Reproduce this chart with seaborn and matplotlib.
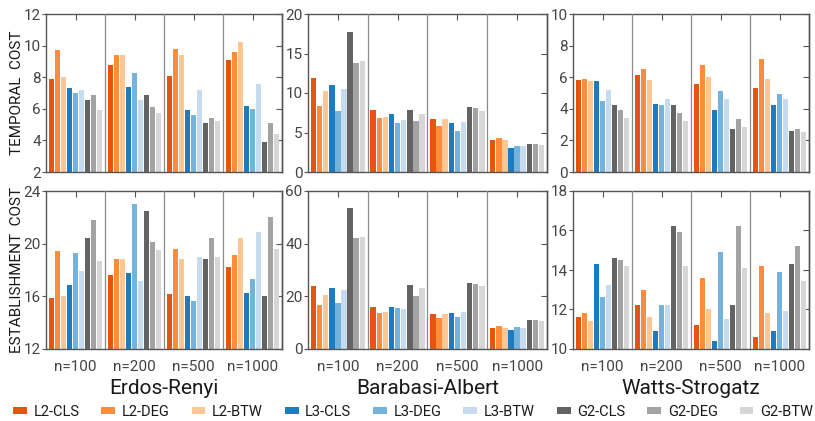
import numpy as np
import pandas as pd
import matplotlib
matplotlib.use("Agg")
import matplotlib.pyplot as plt
from matplotlib.patches import Patch
import seaborn as sns

sns.set_style("white")
plt.rcParams['font.family'] = ['Roboto', 'DejaVu Sans']

# ---------------- data ----------------
methods = ["L2-CLS", "L2-DEG", "L2-BTW", "L3-CLS", "L3-DEG", "L3-BTW",
           "G2-CLS", "G2-DEG", "G2-BTW"]
colors = ["#e6550d", "#fd8d3c", "#fdc793", "#1f7bbf", "#74b3dc", "#c6dbef",
          "#636363", "#a3a3a3", "#d6d6d6"]
n_labels = ["n=100", "n=200", "n=500", "n=1000"]
networks = ["Erdos-Renyi", "Barabasi-Albert", "Watts-Strogatz"]
row_labels = ["TEMPORAL  COST", "ESTABLISHMENT  COST"]

# rows: methods (same order as `methods`), columns: n=100, 200, 500, 1000
er_temporal = [
    [7.9, 8.8, 8.1, 9.1],
    [9.7, 9.4, 9.8, 9.6],
    [8.0, 9.4, 9.4, 10.2],
    [7.3, 7.35, 5.9, 6.2],
    [7.0, 8.25, 5.6, 6.0],
    [7.2, 6.55, 7.2, 7.55],
    [6.55, 6.9, 5.1, 3.9],
    [6.85, 6.1, 5.4, 5.1],
    [5.9, 5.75, 5.2, 4.4],
]
ba_temporal = [
    [11.9, 7.9, 6.7, 4.0],
    [8.3, 6.8, 5.8, 4.3],
    [10.3, 7.0, 6.7, 4.0],
    [11.05, 7.35, 6.2, 3.0],
    [7.7, 6.2, 5.15, 3.35],
    [10.55, 6.55, 6.3, 3.35],
    [17.7, 7.9, 8.2, 3.55],
    [13.85, 6.45, 8.05, 3.55],
    [14.1, 7.4, 7.7, 3.4],
]
ws_temporal = [
    [5.85, 6.15, 5.6, 5.3],
    [5.9, 6.55, 6.8, 7.15],
    [5.75, 5.85, 6.0, 5.9],
    [5.75, 4.3, 3.9, 4.25],
    [4.5, 4.25, 5.1, 4.95],
    [5.2, 4.65, 4.65, 4.65],
    [4.25, 4.25, 2.7, 2.6],
    [3.9, 3.75, 3.35, 2.7],
    [3.4, 3.2, 2.85, 2.55],
]
er_establish = [
    [15.85, 17.6, 16.2, 18.25],
    [19.45, 18.8, 19.6, 19.15],
    [16.05, 18.8, 18.8, 20.45],
    [16.85, 17.8, 16.0, 16.25],
    [19.3, 23.05, 15.65, 17.3],
    [17.95, 17.15, 19.0, 20.9],
    [20.4, 22.45, 18.8, 16.0],
    [21.8, 20.1, 20.4, 22.0],
    [18.7, 19.5, 19.0, 19.6],
]
ba_establish = [
    [23.9, 15.9, 13.4, 7.9],
    [16.6, 13.75, 11.75, 8.75],
    [20.6, 14.1, 13.4, 7.9],
    [23.0, 15.9, 13.5, 7.4],
    [17.4, 15.6, 12.1, 8.25],
    [22.5, 15.25, 14.0, 8.1],
    [53.4, 24.4, 25.25, 11.1],
    [42.1, 20.0, 24.6, 11.1],
    [42.5, 23.0, 23.75, 10.6],
]
ws_establish = [
    [11.62, 12.22, 11.2, 10.6],
    [11.82, 13.0, 13.62, 14.22],
    [11.42, 11.62, 12.02, 11.8],
    [14.32, 10.92, 10.4, 10.9],
    [12.62, 12.22, 14.92, 13.92],
    [13.22, 12.22, 11.52, 11.9],
    [14.62, 16.22, 12.22, 14.32],
    [14.52, 15.92, 16.25, 15.22],
    [14.22, 14.22, 14.12, 13.42],
]

panels = [[er_temporal, ba_temporal, ws_temporal],
          [er_establish, ba_establish, ws_establish]]
ylims = [[(2, 12), (0, 20), (0, 10)], [(12, 24), (0, 60), (10, 18)]]
yticks = [[[2, 4, 6, 8, 10, 12], [0, 5, 10, 15, 20], [0, 2, 4, 6, 8, 10]],
          [[12, 16, 20, 24], [0, 20, 40, 60], [10, 12, 14, 16, 18]]]

# ---------------- figure ----------------
W, H = 815, 421
fig = plt.figure(figsize=(W / 100, H / 100), dpi=100)

col_px = [(46, 282), (308, 547), (573, 809)]
row_px = [(14, 172), (191, 349)]
spine_col = "#555555"
text_col = "#444444"

for r in range(2):
    for c in range(3):
        x0, x1 = col_px[c]
        y0, y1 = row_px[r]
        ax = fig.add_axes([x0 / W, 1 - y1 / H, (x1 - x0) / W, (y1 - y0) / H])
        vals = panels[r][c]
        df = pd.DataFrame({
            "n": [n for m in methods for n in n_labels],
            "method": [m for m in methods for n in n_labels],
            "value": [v for row in vals for v in row],
        })
        sns.barplot(data=df, x="n", y="value", hue="method", order=n_labels,
                    hue_order=methods, palette=colors, width=0.92, gap=0.1,
                    saturation=1, errorbar=None, legend=False, ax=ax,
                    linewidth=0)
        ax.set_xlim(-0.5, 3.5)
        ax.set_ylim(*ylims[r][c])
        ax.set_yticks(yticks[r][c])
        ax.set_xticks(range(4))
        ax.set_xticklabels(n_labels)
        ax.set_xlabel("")
        ax.set_ylabel("")
        for sep in (0.5, 1.5, 2.5):
            ax.axvline(sep, color="#8a8a8a", lw=0.9, zorder=3)
        for s in ax.spines.values():
            s.set_visible(True)
            s.set_color(spine_col)
            s.set_linewidth(1.0)
        ax.tick_params(axis="y", direction="out", length=3, width=0.8,
                       color=spine_col, labelsize=11, labelcolor=text_col,
                       pad=0.8, left=True, right=False)
        ax.tick_params(axis="x", direction="in", length=4, width=0.8,
                       color=spine_col, labelsize=11, labelcolor=text_col,
                       pad=8, top=True, bottom=True, labelbottom=(r == 1))
        sec = ax.secondary_yaxis("right")
        sec.set_yticks(yticks[r][c])
        sec.tick_params(direction="in", length=4, width=0.8, color=spine_col,
                        labelright=False)
        sec.spines["right"].set_color(spine_col)
        sec.spines["right"].set_linewidth(1.0)
        ax.set_facecolor("white")

for c in range(3):
    x0, x1 = col_px[c]
    fig.text((x0 + x1) / 2 / W, 1 - 388 / H, networks[c], ha="center",
             va="center", fontsize=15, color="#1a1a1a")

for r in range(2):
    y0, y1 = row_px[r]
    fig.text(17.5 / W, 1 - (y0 + y1) / 2 / H, row_labels[r], rotation=90,
             ha="center", va="center", fontsize=11, color="#1a1a1a")

handles = [Patch(facecolor=col, edgecolor="none") for col in colors]
fig.legend(handles, methods, loc="center", ncol=9,
           bbox_to_anchor=(13 / W, 1 - 421 / H, 800 / W, 2 * (421 - 412) / H),
           mode="expand", frameon=False, fontsize=10.5, handlelength=0.95,
           handleheight=0.35, handletextpad=0.45, borderaxespad=0,
           borderpad=0, labelcolor="#1a1a1a")

fig.savefig("out.png", dpi=100)
